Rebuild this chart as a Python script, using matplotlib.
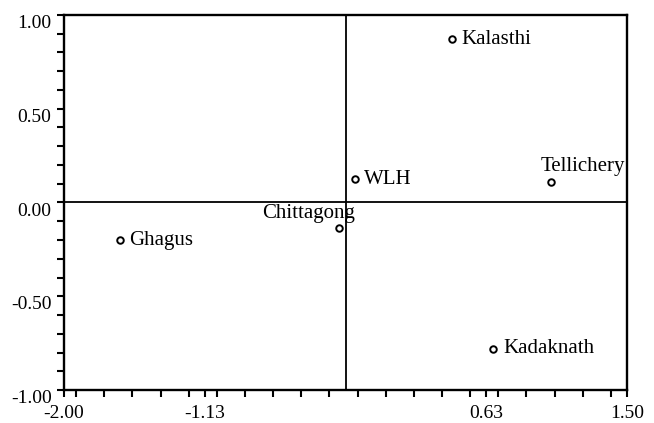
import matplotlib
matplotlib.use("Agg")
import matplotlib.pyplot as plt
from matplotlib.ticker import MultipleLocator, FixedLocator

plt.rcParams['font.family'] = ['Liberation Serif', 'DejaVu Serif']

# Data
names = ["Kalasthi", "WLH", "Tellichery", "Chittagong", "Ghagus", "Kadaknath"]
xs = [0.41, -0.19, 1.03, -0.29, -1.65, 0.67]
ys = [0.87, 0.125, 0.11, -0.135, -0.20, -0.78]
xticks = [-2.00, -1.125, 0.625, 1.50]
xtick_labels = ["-2.00", "-1.13", "0.63", "1.50"]
yticks = [-1.00, -0.50, 0.00, 0.50, 1.00]
ytick_labels = ["-1.00", "-0.50", "0.00", "0.50", "1.00"]

# label offsets in pixels (dx, dy, ha, va)
offsets = {
    "Kalasthi": (10, 0, 'left', 'center'),
    "WLH": (9, 0, 'left', 'center'),
    "Tellichery": (-11, 11, 'left', 'baseline'),
    "Chittagong": (16, 10, 'right', 'baseline'),
    "Ghagus": (9, 0, 'left', 'center'),
    "Kadaknath": (10, 0, 'left', 'center'),
}

dpi = 100
fig = plt.figure(figsize=(6.54, 4.23), dpi=dpi)
ax = fig.add_axes([64/654, 33/423, (627-64)/654, (390-15)/423])

xmin, xmax, ymin, ymax = -2.0, 1.5, -1.0, 1.0
ax.set_xlim(xmin, xmax)
ax.set_ylim(ymin, ymax)

ax.axvline((xmin + xmax) / 2, color='black', lw=1.3, zorder=1)
ax.axhline((ymin + ymax) / 2, color='black', lw=1.3, zorder=1)

ax.scatter(xs, ys, s=22, facecolors='white', edgecolors='black', linewidths=1.4, zorder=3)

pt = 72.0 / dpi
for n, x, y in zip(names, xs, ys):
    dx, dy, ha, va = offsets[n]
    ax.annotate(n, (x, y), xytext=(dx * pt, dy * pt), textcoords='offset points',
                ha=ha, va=va, fontsize=15, color='black', zorder=4)

ax.xaxis.set_major_locator(FixedLocator(xticks))
ax.set_xticklabels(xtick_labels)
ax.xaxis.set_minor_locator(MultipleLocator(0.175))
ax.yaxis.set_major_locator(FixedLocator(yticks))
ax.set_yticklabels(ytick_labels)
ax.yaxis.set_minor_locator(MultipleLocator(0.1))

ax.tick_params(axis='both', which='both', direction='out', length=5, width=1.5,
               labelsize=14, colors='black')
ax.tick_params(axis='x', pad=6)
ax.tick_params(axis='y', pad=4)
for lab in ax.get_yticklabels():
    lab.set_verticalalignment('top')

for s in ax.spines.values():
    s.set_linewidth(1.7)
    s.set_color('black')

fig.savefig("out.png", dpi=dpi)
